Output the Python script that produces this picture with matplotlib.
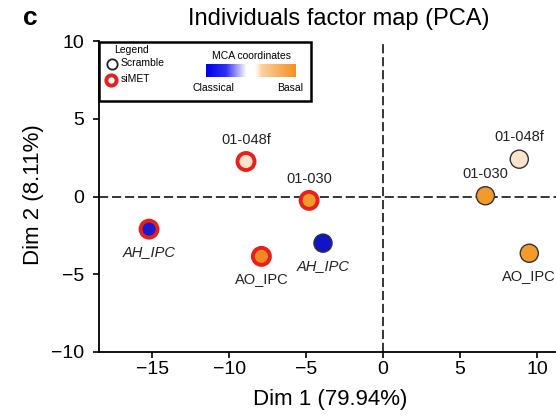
import matplotlib
matplotlib.use("Agg")
import matplotlib.pyplot as plt
import numpy as np
from matplotlib.colors import LinearSegmentedColormap
from matplotlib.patches import Rectangle

plt.rcParams['font.family'] = ['Liberation Sans', 'DejaVu Sans']

# siMET (red edge)
si_labels = ["01-048f", "01-030", "AH_IPC", "AO_IPC"]
si_x = [-8.9, -4.8, -15.2, -7.9]
si_y = [2.25, -0.25, -2.1, -3.85]
si_fill = ["#fde3cc", "#f39a2c", "#1a1ad0", "#f08a22"]

# Scramble (black edge)
sc_labels = ["AH_IPC", "01-048f", "01-030", "AO_IPC"]
sc_x = [-3.9, 8.85, 6.65, 9.5]
sc_y = [-3.0, 2.4, 0.05, -3.65]
sc_fill = ["#1212c8", "#fde3cc", "#f39a2c", "#f39a2c"]

xticks = [-15, -10, -5, 0, 5, 10]
yticks = [-10, -5, 0, 5, 10]

W, H = 556, 416
fig = plt.figure(figsize=(W / 100, H / 100), dpi=100)

# axes geometry in pixels: left 99, right 577, top 41, bottom 352
L, R, T, B = 99, 577, 41, 352
ax = fig.add_axes([L / W, 1 - B / H, (R - L) / W, (B - T) / H])
ax.set_xlim(-18.45, 12.6)
ax.set_ylim(-10, 10)
ax.spines['top'].set_visible(False)
ax.spines['right'].set_visible(False)
for s in ['left', 'bottom']:
    ax.spines[s].set_linewidth(1.3)
ax.set_xticks(xticks)
ax.set_yticks(yticks)
ax.tick_params(direction='out', length=4.5, width=1.2, labelsize=14)
ax.tick_params(axis='x', pad=2)
ax.tick_params(axis='y', pad=6)
ax.axhline(0, color='black', ls=(0, (6, 2.5)), lw=1.1, zorder=1)
ax.axvline(0, color='black', ls=(0, (6, 2.5)), lw=1.1, zorder=1)

ax.scatter(si_x, si_y, s=150, c=si_fill, edgecolors='#e8201c', linewidths=2.8, zorder=3)
ax.scatter(sc_x, sc_y, s=170, c=sc_fill, edgecolors='#333333', linewidths=1.0, zorder=3)

def lab(x, y, t, above):
    italic = t == "AH_IPC"
    dy = 1.4 if above else -1.45
    ax.text(x, y + dy, t, ha='center', va='center', fontsize=10.5,
            style='italic' if italic else 'normal', color='#222222', zorder=4)

for x, y, t in zip(si_x, si_y, si_labels):
    lab(x, y, t, t in ("01-048f", "01-030"))
for x, y, t in zip(sc_x, sc_y, sc_labels):
    lab(x, y, t, t in ("01-048f", "01-030"))

def fx(px):
    return px / W
def fy(py):
    return 1 - py / H

fig.text(fx(330), fy(400), "Dim 1 (79.94%)", ha='center', va='center', fontsize=16)
fig.text(fx(34), fy(195), "Dim 2 (8.11%)", ha='center', va='center', fontsize=16, rotation=90)
fig.text(fx(339), fy(19), "Individuals factor map (PCA)", ha='center', va='center', fontsize=17)
fig.text(fx(30), fy(18), "c", ha='center', va='center', fontsize=19, fontweight='bold')

# Legend box
box = Rectangle((fx(99), fy(101)), fx(311) - fx(99), fy(42) - fy(101), transform=fig.transFigure,
                fill=True, facecolor='white', edgecolor='black', lw=1.8, zorder=5)
fig.add_artist(box)
fs = 7.5
fig.text(fx(114), fy(50), "Legend", fontsize=fs, ha='left', va='center', zorder=6)
fig.text(fx(121), fy(63), "Scramble", fontsize=fs, ha='left', va='center', zorder=6)
fig.text(fx(121), fy(79), "siMET", fontsize=fs, ha='left', va='center', zorder=6)
lax = fig.add_axes([0, 0, 1, 1], facecolor='none', zorder=7)
lax.set_xlim(0, W); lax.set_ylim(H, 0); lax.axis('off')
lax.scatter([112], [64], s=55, facecolors='white', edgecolors='#222222', linewidths=1.3)
lax.scatter([111], [80], s=55, facecolors='white', edgecolors='#e8201c', linewidths=2.8)
fig.text(fx(252), fy(56), "MCA coordinates", fontsize=fs, ha='center', va='center', zorder=6)
fig.text(fx(213), fy(88), "Classical", fontsize=fs, ha='center', va='center', zorder=6)
fig.text(fx(290), fy(88), "Basal", fontsize=fs, ha='center', va='center', zorder=6)
cmap = LinearSegmentedColormap.from_list("mca", [(0, "#0000e8"), (0.22, "#3030f0"), (0.45, "#ffffff"),
                                                 (0.55, "#ffffff"), (0.62, "#fcd0a0"), (1, "#f49020")])
grad = np.linspace(0, 1, 200).reshape(1, -1)
lax.imshow(grad, cmap=cmap, extent=[206, 296, 77, 64], aspect='auto', zorder=8)
lax.set_xlim(0, W); lax.set_ylim(H, 0)

fig.savefig("out.png", dpi=100)
